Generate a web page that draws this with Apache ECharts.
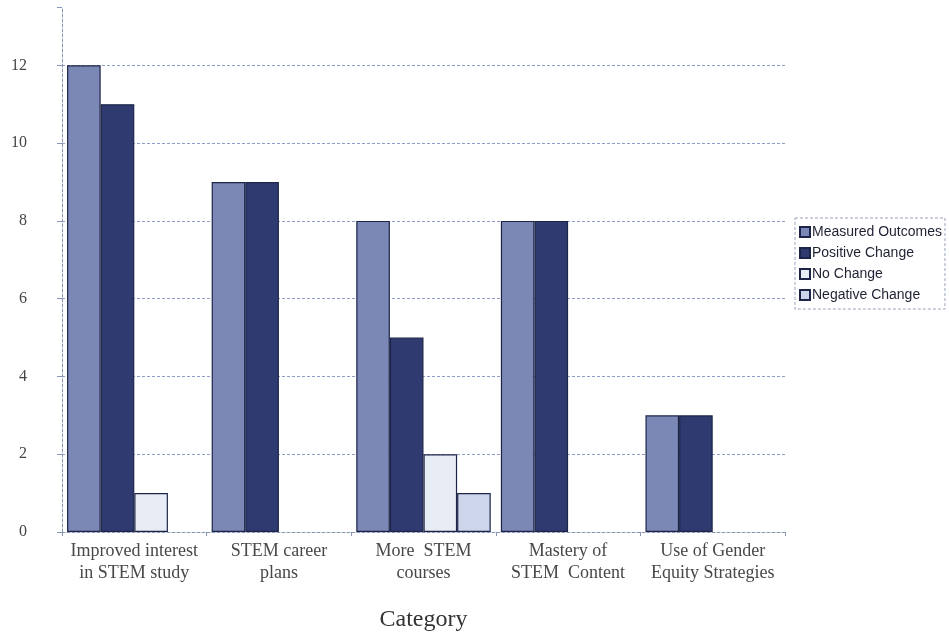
<!DOCTYPE html>
<html>
<head>
<meta charset="utf-8">
<script src="https://cdn.jsdelivr.net/npm/echarts@6/dist/echarts.min.js"></script>
<style>html,body{margin:0;padding:0;background:#fff;}#c{width:949px;height:637px;}</style>
</head>
<body>
<div id="c"></div>
<script>
const categories = ['Improved interest\nin STEM study', 'STEM career\nplans', 'More  STEM\ncourses', 'Mastery of\nSTEM  Content', 'Use of Gender\nEquity Strategies'];
const seriesNames = ['Measured Outcomes', 'Positive Change', 'No Change', 'Negative Change'];
const measuredOutcomes = [12, 9, 8, 8, 3];
const positiveChange = [11, 9, 5, 8, 3];
const noChange = [1, 0, 2, 0, 0];
const negativeChange = [0, 0, 1, 0, 0];
const yTicks = [0, 2, 4, 6, 8, 10, 12];

const colors = ['#7b88b5', '#2f3b70', '#e8ecf5', '#cdd5ea'];
const allData = [measuredOutcomes, positiveChange, noChange, negativeChange];

const chart = echarts.init(document.getElementById('c'));
chart.setOption({
  animation: false,
  backgroundColor: '#fff',
  grid: { left: 62, right: 164, top: 7, bottom: 104, containLabel: false },
  legend: {
    orient: 'vertical',
    left: 795,
    top: 218,
    padding: [7, 3, 7, 4],
    itemWidth: 10,
    itemHeight: 10,
    itemGap: 7,
    borderColor: '#9aa3bb',
    borderWidth: 1,
    borderType: [3, 2],
    icon: 'rect',
    textStyle: { fontFamily: 'Liberation Sans, Arial, sans-serif', fontSize: 14, color: '#1f2233', padding: [0, 0, 0, -3] },
    data: seriesNames
  },
  xAxis: {
    type: 'category',
    data: categories,
    name: 'Category',
    nameLocation: 'middle',
    nameGap: 76,
    nameTextStyle: { fontFamily: 'Liberation Serif, DejaVu Serif, serif', fontSize: 24, color: '#333' },
    axisLine: { lineStyle: { color: '#8a96b8', type: [3, 2], width: 1 } },
    axisTick: { show: true, length: 4, alignWithLabel: false, lineStyle: { color: '#8a96b8' } },
    axisLabel: { interval: 0, fontFamily: 'Liberation Serif, DejaVu Serif, serif', fontSize: 18, color: '#484848', lineHeight: 22, margin: 8 }
  },
  yAxis: {
    type: 'value',
    min: 0,
    max: 13.5,
    interval: 2,
    axisLine: { show: true, lineStyle: { color: '#8a96b8', type: [3, 2], width: 1 } },
    axisTick: { show: true, length: 5, lineStyle: { color: '#8a96b8' } },
    axisLabel: {
      fontFamily: 'Liberation Serif, DejaVu Serif, serif', fontSize: 16, color: '#444', margin: 35,
      formatter: function (v) { return yTicks.indexOf(v) >= 0 ? String(v) : ''; }
    },
    splitLine: { show: true, showMaxLine: false, lineStyle: { color: '#8f9dc8', type: [3, 2], width: 1 } }
  },
  series: seriesNames.map(function (name, i) {
    return {
      name: name,
      type: 'bar',
      data: allData[i].map(function (v) { return v === 0 ? '-' : v; }),
      barGap: '0%',
      barCategoryGap: '7%',
      itemStyle: { color: colors[i], borderColor: '#1c2547', borderWidth: 1.2 }
    };
  })
});
</script>
</body>
</html>
